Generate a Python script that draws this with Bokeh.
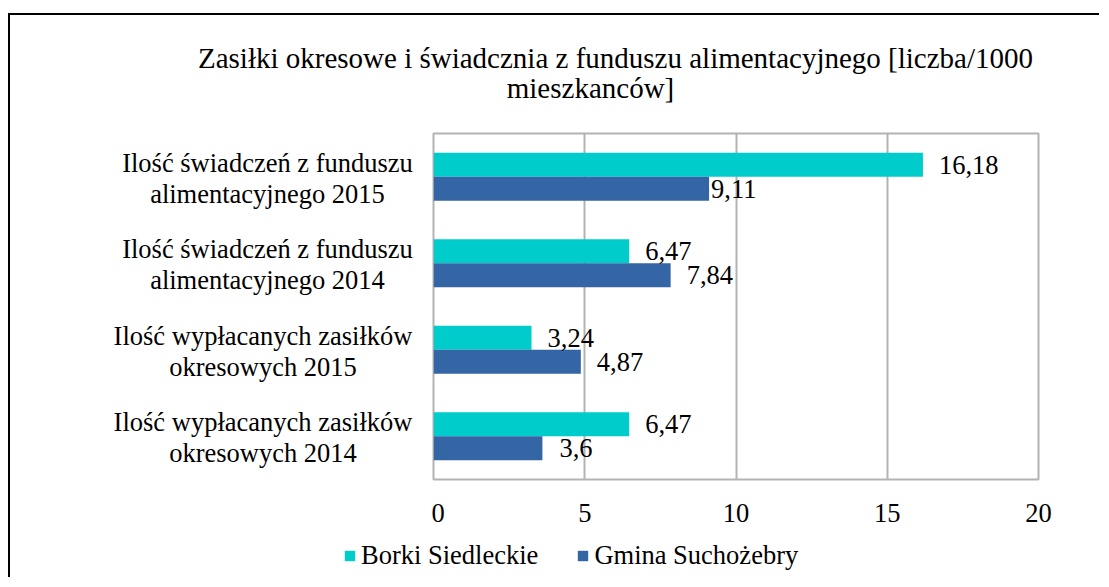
from bokeh.plotting import figure
from bokeh.models import (ColumnDataSource, FactorRange, Range1d, Legend,
                          LegendItem, FixedTicker)
from bokeh.layouts import column, row
from bokeh.transform import dodge
from bokeh.core.properties import value
from bokeh.embed import file_html
from bokeh.resources import INLINE

# ---- data ----
title_lines = ["Zasiłki okresowe i świadcznia z funduszu alimentacyjnego [liczba/1000",
               "mieszkanców]"]
categories = [
    "Ilość wypłacanych zasiłków okresowych 2014",
    "Ilość wypłacanych zasiłków okresowych 2015",
    "Ilość świadczeń z funduszu alimentacyjnego 2014",
    "Ilość świadczeń z funduszu alimentacyjnego 2015",
]
cat_line1 = ["Ilość wypłacanych zasiłków", "Ilość wypłacanych zasiłków",
             "Ilość świadczeń z funduszu", "Ilość świadczeń z funduszu"]
cat_line2 = ["okresowych 2014", "okresowych 2015",
             "alimentacyjnego 2014", "alimentacyjnego 2015"]
series_names = ["Borki Siedleckie", "Gmina Suchożebry"]
borki = [6.47, 3.24, 6.47, 16.18]
gmina = [3.6, 4.87, 7.84, 9.11]
x_ticks = [0, 5, 10, 15, 20]

FONT = "Liberation Serif"
FS = "26.5px"
TITLE_FS = "29px"
TEAL = "#00cccc"
BLUE = "#3465a4"
GRID = "#b3b3b3"
W = 1091
LEFT_W = 423
TITLE_H = 118
MAIN_H = 404
LEG_H = 42
BORDER = "2px solid black"


def fmt(v):
    return f"{v:g}".replace(".", ",")


def bare(fig):
    fig.min_border_left = fig.min_border_right = 0
    fig.min_border_top = fig.min_border_bottom = 0
    fig.outline_line_color = None
    fig.background_fill_color = "white"
    fig.border_fill_color = "white"
    return fig


src = ColumnDataSource(dict(
    cat=categories,
    borki=borki,
    gmina=gmina,
    borki_lbl=[fmt(v) for v in borki],
    gmina_lbl=[fmt(v) for v in gmina],
    line1=cat_line1,
    line2=cat_line2,
    # layout only: label centre (px) and value-label offsets (px)
    lx=[252.5, 252.5, 257, 257],
    b_off=[16, 16, 16, 16],
    g_off=[17, 16, 16, 2],
))

yr = FactorRange(factors=categories, range_padding=0, factor_padding=0)

# ---- title figure ----
pt = bare(figure(width=W, height=TITLE_H, x_range=Range1d(0, W), y_range=Range1d(TITLE_H, 0),
                 x_axis_type=None, y_axis_type=None,
                 output_backend="svg", toolbar_location=None))
pt.text(x=[605, 580], y=[42, 72], text=title_lines, text_align="center",
        text_baseline="middle", text_font=value(FONT), text_font_size=TITLE_FS,
        text_color="black")
pt.styles = {"border-left": BORDER, "border-top": BORDER,
             "margin-top": "13px", "margin-left": "8px"}

# ---- category label figure ----
pl = bare(figure(width=LEFT_W, height=MAIN_H, x_range=Range1d(0, LEFT_W), y_range=yr,
                 x_axis_type=None, y_axis_type=None,
                 output_backend="svg", toolbar_location=None))
pl.min_border_top = 2
pl.min_border_bottom = 56
pl.text(x="lx", y=dodge("cat", 0.162, range=yr), text="line1", source=src,
        text_align="center", text_baseline="middle", text_font=value(FONT),
        text_font_size=FS, text_color="black")
pl.text(x="lx", y=dodge("cat", -0.197, range=yr), text="line2", source=src,
        text_align="center", text_baseline="middle", text_font=value(FONT),
        text_font_size=FS, text_color="black")
pl.styles = {"border-left": BORDER, "margin-left": "8px"}

# ---- main figure ----
p = figure(
    width=W - LEFT_W, height=MAIN_H,
    y_range=yr, x_range=Range1d(0, 20),
    output_backend="svg", toolbar_location=None,
    min_border_left=2, min_border_right=61,
    min_border_top=2, min_border_bottom=56,
    background_fill_color="white", border_fill_color="white",
)

off = 0.139
bh = 0.278
r1 = p.hbar(y=dodge("cat", off, range=yr), right="borki", left=0, height=bh,
            source=src, fill_color=TEAL, line_color=None)
r2 = p.hbar(y=dodge("cat", -off, range=yr), right="gmina", left=0, height=bh,
            source=src, fill_color=BLUE, line_color=None)

p.text(x="borki", y=dodge("cat", off, range=yr), text="borki_lbl", source=src,
       x_offset="b_off", text_baseline="middle", text_align="left",
       text_font=value(FONT), text_font_size=FS, text_color="black")
p.text(x="gmina", y=dodge("cat", -off, range=yr), text="gmina_lbl", source=src,
       x_offset="g_off", text_baseline="middle", text_align="left",
       text_font=value(FONT), text_font_size=FS, text_color="black")

p.yaxis.visible = False
p.ygrid.grid_line_color = None
p.xgrid.ticker = FixedTicker(ticks=x_ticks)
p.xgrid.grid_line_color = GRID
p.xgrid.grid_line_width = 2
p.xaxis.ticker = FixedTicker(ticks=x_ticks)
p.xaxis.axis_line_color = None
p.xaxis.major_tick_line_color = None
p.xaxis.minor_tick_line_color = None
p.xaxis.major_tick_out = 0
p.xaxis.major_tick_in = 0
p.xaxis.major_label_standoff = 24
p.xaxis.major_label_text_font = FONT
p.xaxis.major_label_text_font_size = FS
p.xaxis.major_label_text_color = "black"
p.outline_line_color = GRID
p.outline_line_width = 2

# ---- legend figure ----
pg = bare(figure(width=W, height=LEG_H, x_range=Range1d(0, 1), y_range=Range1d(0, 1),
                 x_axis_type=None, y_axis_type=None,
                 output_backend="svg", toolbar_location=None))
# legend swatch renderers: one bar each, placed outside the visible range
g1 = pg.hbar(y=[-5], left=[-5], right=[-4], height=0.1, fill_color=TEAL, line_color=None)
g2 = pg.hbar(y=[-5], left=[-5], right=[-4], height=0.1, fill_color=BLUE, line_color=None)
legend = Legend(items=[LegendItem(label=series_names[0], renderers=[g1]),
                       LegendItem(label=series_names[1], renderers=[g2])],
                orientation="horizontal", location=(333, 6),
                glyph_width=13, glyph_height=13, label_standoff=5, spacing=38,
                label_height=30,
                padding=0, margin=0, border_line_color=None,
                background_fill_alpha=0,
                label_text_font=FONT, label_text_font_size=FS,
                label_text_color="black")
pg.add_layout(legend, "center")
pg.styles = {"border-left": BORDER, "margin-left": "8px"}

layout = column(pt, row(pl, p, spacing=0), pg, spacing=0)
open("out.html", "w").write(file_html(layout, INLINE))
